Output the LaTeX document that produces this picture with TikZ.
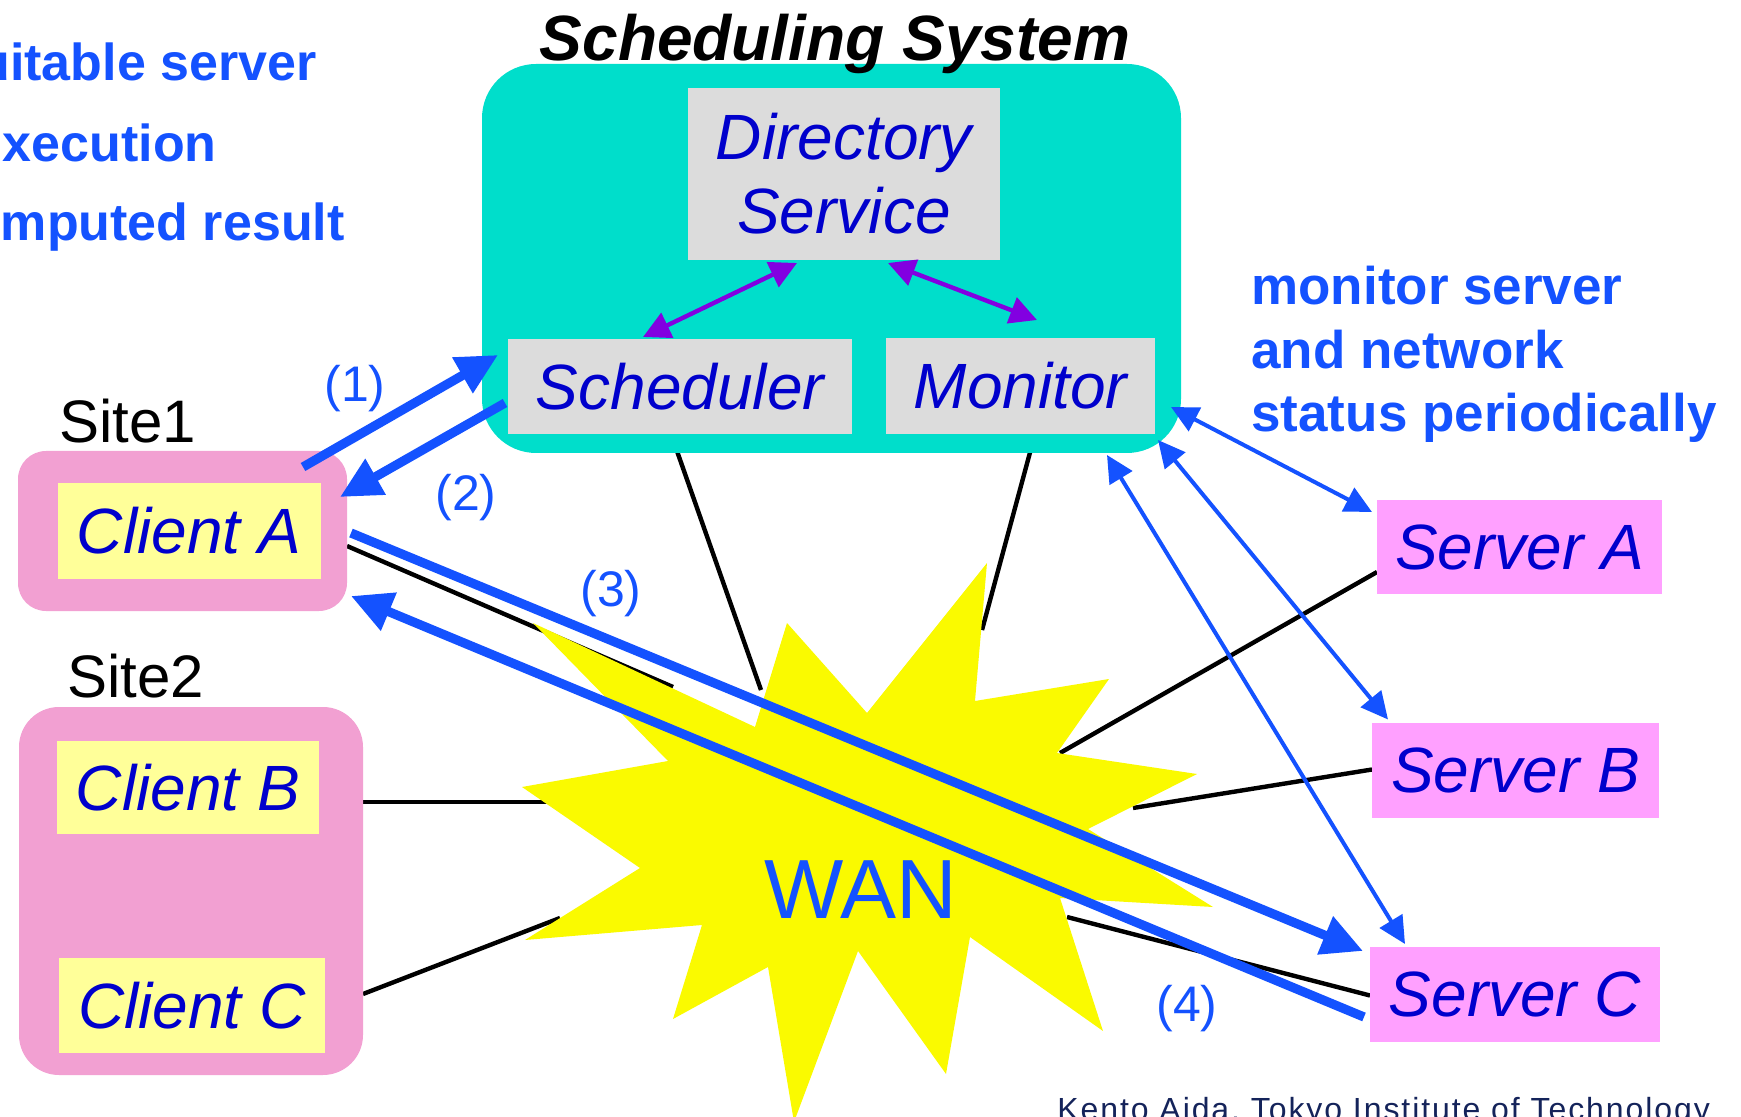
\documentclass[tikz,border=0pt]{standalone}
\usepackage{fontspec}
\setmainfont{Liberation Sans}
\setsansfont{Liberation Sans}
\newfontfamily\creditfont{Liberation Sans}[LetterSpace=6]
\usetikzlibrary{arrows.meta}
\pgfdeclarelayer{background}
\pgfsetlayers{background,main}

\definecolor{tealbg}{RGB}{0,222,203}
\definecolor{boxgray}{RGB}{220,220,220}
\definecolor{sitepink}{RGB}{242,160,210}
\definecolor{serverpink}{RGB}{255,160,255}
\definecolor{clientyellow}{RGB}{255,255,153}
\definecolor{labelblue}{RGB}{0,0,204}
\definecolor{flowblue}{RGB}{20,82,255}
\definecolor{wanyellow}{RGB}{250,250,0}
\definecolor{linkpurple}{RGB}{130,0,225}
\definecolor{creditnavy}{RGB}{20,35,90}

\tikzset{
  box/.style={inner sep=0pt, outer sep=0pt, align=center, text=labelblue,
    font=\fontsize{32pt}{37pt}\selectfont\itshape},
  graybox/.style={box, fill=boxgray},
  clientbox/.style={box, fill=clientyellow},
  serverbox/.style={box, fill=serverpink},
  sitebox/.style={fill=sitepink, inner sep=0pt, outer sep=0pt},
  sitelabel/.style={inner sep=0pt, anchor=base west, font=\fontsize{30pt}{36pt}\selectfont},
  steplabel/.style={inner sep=0pt, anchor=base, text=flowblue, font=\fontsize{25pt}{30pt}\selectfont},
  note/.style={inner sep=0pt, text=flowblue, font=\fontsize{26.5pt}{31pt}\selectfont\bfseries},
  leftnote/.style={note, anchor=base east, font=\fontsize{26pt}{31pt}\selectfont\bfseries},
  flow/.style={draw=flowblue, line width=4.6pt, -{Triangle[length=20.5pt,width=19.5pt]}},
  probe/.style={draw=flowblue, line width=2pt,
    {Triangle[length=13.5pt,width=13pt]}-{Triangle[length=13.5pt,width=13pt]}},
  query/.style={draw=linkpurple, line width=2.2pt,
    {Triangle[length=13.5pt,width=13.5pt]}-{Triangle[length=13.5pt,width=13.5pt]}},
  wire/.style={draw=black, line width=2.2pt}
}

\begin{document}
\begin{tikzpicture}[x=0.5pt,y=-0.5pt]
\useasboundingbox (0,0) rectangle (1741,1117);

% scheduling system
\node[fill=tealbg, rounded corners=27pt, minimum width=349.5pt, minimum height=194.5pt,
      inner sep=0pt, outer sep=0pt] (sysbox) at (831.5,258.5) {};
\node[inner sep=0pt, anchor=base, font=\fontsize{32pt}{38pt}\selectfont\bfseries\itshape]
      (title) at (835,61) {Scheduling System};
\node[graybox, minimum width=156pt, minimum height=86pt] (dirsvc) at (844,174) {Directory\\Service};
\node[graybox, minimum width=172pt, minimum height=47.5pt] (sched) at (680,386.5) {Scheduler};
\node[graybox, minimum width=134.5pt, minimum height=48pt] (monitor) at (1020.5,386) {Monitor};

% client sites
\node[sitebox, rounded corners=14pt, minimum width=164.5pt, minimum height=80pt] (site1) at (182.5,531) {};
\node[clientbox, minimum width=131.5pt, minimum height=48pt] (clientA) at (189,531) {Client A};
\node[sitebox, rounded corners=20pt, minimum width=172pt, minimum height=184pt] (site2) at (191,891) {};
\node[clientbox, minimum width=131pt, minimum height=46.5pt] (clientB) at (188,787.5) {Client B};
\node[clientbox, minimum width=133pt, minimum height=47.5pt] (clientC) at (192,1005.5) {Client C};
\node[sitelabel] (site1lbl) at (59,443) {Site1};
\node[sitelabel] (site2lbl) at (67,697) {Site2};

% servers
\node[serverbox, minimum width=142.5pt, minimum height=47pt] (srvA) at (1519.5,547) {Server A};
\node[serverbox, minimum width=143.5pt, minimum height=47.5pt] (srvB) at (1515.5,770.5) {Server B};
\node[serverbox, minimum width=145pt, minimum height=47.5pt] (srvC) at (1515,994.5) {Server C};

% network cloud
\fill[wanyellow] (533,623) -- (755,727) -- (787,623) -- (867,713) -- (987,563) -- (975,701)
  -- (1109,679) -- (1057,753) -- (1197,774) -- (1088,829) -- (1213,907) -- (1060,898)
  -- (1103,1031) -- (970,937) -- (946,1074) -- (858,951) -- (794,1122) -- (768,967)
  -- (673,1019) -- (702,925) -- (525,940) -- (640,868) -- (522,787) -- (668,761) -- cycle;
\node[inner sep=0pt, anchor=base, text=flowblue, font=\fontsize{42pt}{50pt}\selectfont]
      (wan) at (861,918) {WAN};

% attachment points on the cloud
\coordinate (wanSiteA) at (673,687);
\coordinate (wanSched) at (761,690);
\coordinate (wanMon) at (982,630);
\coordinate (wanSrvA) at (1060,753);
\coordinate (wanSrvB) at (1133,808);
\coordinate (wanSrvC) at (1067,917);
\coordinate (wanSiteB) at (548,802);
\coordinate (wanSiteC) at (560,918);

% network links behind everything
\begin{pgfonlayer}{background}
\draw[wire] ([shift={(0,15)}]site1.east) -- (wanSiteA);
\draw[wire] ([shift={(-9,0)}]sched.south) -- (wanSched);
\draw[wire] ([shift={(14.5,0)}]monitor.south) -- (wanMon);
\draw[wire] ([shift={(0,25)}]srvA.west) -- (wanSrvA);
\draw[wire] ([shift={(0,-1)}]srvB.west) -- (wanSrvB);
\draw[wire] ([shift={(0,1)}]srvC.west) -- (wanSrvC);
\draw[wire] ([shift={(0,-89)}]site2.east) -- (wanSiteB);
\draw[wire] ([shift={(0,103)}]site2.east) -- (wanSiteC);
\end{pgfonlayer}

% directory queries
\draw[query] ([shift={(-47,3)}]dirsvc.south) -- ([shift={(-37,-2)}]sched.north);
\draw[query] ([shift={(44,3)}]dirsvc.south) -- ([shift={(16.5,-18)}]monitor.north);

% monitoring of servers
\draw[probe] ([shift={(-10,-46)}]sysbox.south east) -- ([shift={(-5,-35)}]srvA.west);
\draw[probe] ([shift={(-23,-13)}]sysbox.south east) -- ([shift={(16,-3.5)}]srvB.north west);
\draw[probe] ([shift={(-74,2)}]sysbox.south east) -- ([shift={(35,-3)}]srvC.north west);

% request flow
\draw[flow] ([shift={(-44,16)}]site1.north east) -- ([shift={(-10,-31.5)}]sched.west);
\draw[flow] ([shift={(-3,16.5)}]sched.west) -- ([shift={(-7,-34)}]site1.east);
\draw[flow] ([shift={(4,2)}]site1.east) -- ([shift={(-7,-43.5)}]srvC.west);
\draw[flow] ([shift={(-6,22.5)}]srvC.west) -- ([shift={(4,65)}]site1.east);

\node[steplabel] (step1) at (355,401.5) {(1)};
\node[steplabel] (step2) at (466,510) {(2)};
\node[steplabel] (step3) at (611,606.5) {(3)};
\node[steplabel] (step4) at (1187,1021.5) {(4)};

% notes
\node[leftnote] (noteA) at (317,81) {uitable server};
\node[leftnote] (noteB) at (217,162) {xecution};
\node[leftnote] (noteC) at (345,241) {mputed result};
\node[note, anchor=base west] (mon1) at (1251,305) {monitor server};
\node[note, anchor=base west] (mon2) at (1251,368.5) {and network};
\node[note, anchor=base west] (mon3) at (1251,432) {status periodically};

\node[inner sep=0pt, anchor=base west, text=creditnavy, font=\creditfont\fontsize{16pt}{19pt}\selectfont]
      (credit) at (1057,1120) {Kento Aida, Tokyo Institute of Technology};
\end{tikzpicture}
\end{document}
